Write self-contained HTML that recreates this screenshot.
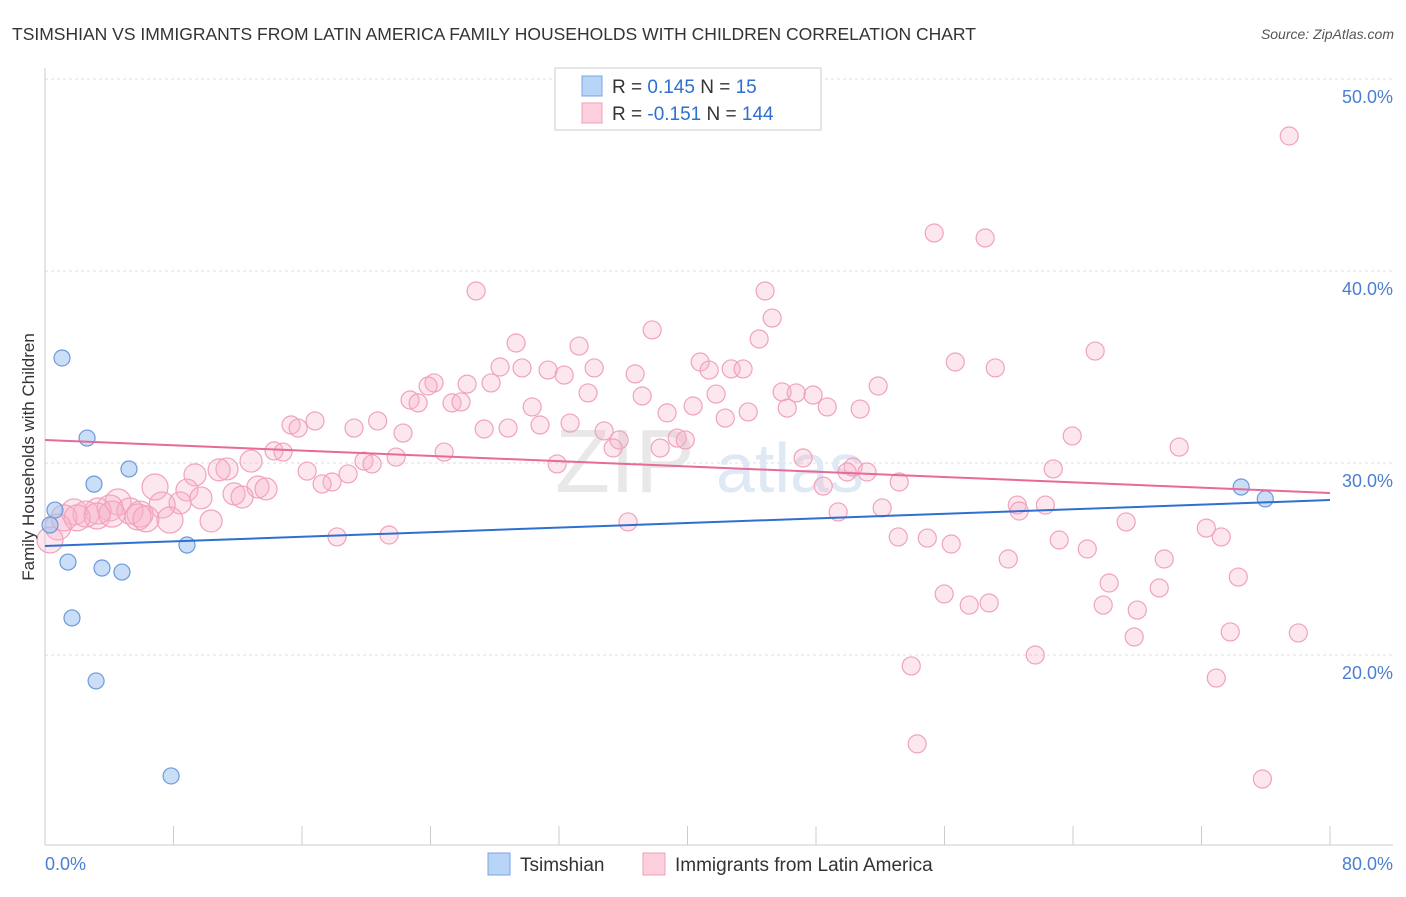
<!DOCTYPE html>
<html><head><meta charset="utf-8"><style>
body{margin:0;background:#fff;font-family:"Liberation Sans",sans-serif;}
svg text{font-family:"Liberation Sans",sans-serif;}
</style></head><body>
<svg id="chart" width="1406" height="892" xmlns="http://www.w3.org/2000/svg">
<text x="12" y="40" font-size="17.5" fill="#333">TSIMSHIAN VS IMMIGRANTS FROM LATIN AMERICA FAMILY HOUSEHOLDS WITH CHILDREN CORRELATION CHART</text>
<text x="1394" y="39" font-size="14" fill="#555" text-anchor="end" font-style="italic">Source: ZipAtlas.com</text>
<g id="grid"></g>
<text x="555" y="492" font-size="90" fill="#e8e8e8" font-family="Liberation Serif">ZIP</text>
<text x="716" y="492" font-size="70" fill="#dfe8f5">atlas</text>
<g id="pinkpts"></g><g id="bluepts"></g><g id="lines"></g>
<text transform="translate(34,457) rotate(-90)" font-size="17" fill="#333" text-anchor="middle">Family Households with Children</text>
<g>
<rect x="555" y="68" width="266" height="62" fill="#fff" stroke="#ccc"/>
<rect x="582" y="76" width="20" height="20" fill="#b8d4f6" stroke="#7aa6e0"/>
<rect x="582" y="103" width="20" height="20" fill="#fbcfdc" stroke="#f0a0b8"/>
<text x="612" y="93" font-size="19" fill="#333">R = <tspan fill="#2f6fd0">0.145</tspan>   N = <tspan fill="#2f6fd0">  15</tspan></text>
<text x="612" y="120" font-size="19" fill="#333">R = <tspan fill="#2f6fd0">-0.151</tspan>   N = <tspan fill="#2f6fd0">144</tspan></text>
</g>
<g>
<rect x="488" y="853" width="22" height="22" fill="#b8d4f6" stroke="#7aa6e0"/>
<text x="520" y="871" font-size="19" fill="#333">Tsimshian</text>
<rect x="643" y="853" width="22" height="22" fill="#fbcfdc" stroke="#f0a0b8"/>
<text x="675" y="871" font-size="19" fill="#333">Immigrants from Latin America</text>
</g>
</svg>
<script>
const yTicks=[20,30,40,50];
const xTickLabels=["0.0%","80.0%"];
const blueX=[0.62,1.06,2.62,3.05,5.23,1.43,1.68,3.55,4.79,8.84,3.18,7.85,74.47,75.97,0.31];
const blueY=[27.55,35.47,31.3,28.9,29.69,24.84,21.93,24.53,24.32,25.73,18.65,13.7,28.75,28.13,26.77];
const pinkX=[77.46,55.36,58.53,26.84,44.83,45.27,37.80,44.46,29.33,33.25,65.38,56.67,40.79,28.33,29.70,34.19,59.16,31.32,32.32,41.35,42.72,43.46,36.74,24.22,23.85,26.28,27.77,51.87,33.81,41.78,45.89,46.77,47.82,37.18,22.73,23.23,25.34,25.90,30.33,40.35,46.21,48.70,50.75,43.78,38.73,42.35,16.81,20.71,15.32,15.76,19.24,30.82,32.69,22.29,27.34,28.83,34.81,35.74,63.95,39.36,39.86,35.37,70.61,14.26,14.82,24.85,38.30,21.86,47.20,12.83,19.86,20.36,31.88,11.33,10.84,62.77,50.31,51.18,49.94,9.34,16.32,18.87,17.87,17.25,48.45,53.18,6.85,8.84,13.26,13.76,11.77,12.27,9.71,8.41,4.55,7.29,4.05,3.30,5.29,1.81,2.55,62.28,60.53,60.65,52.12,49.38,5.92,1.18,2.00,3.24,4.17,5.79,6.29,7.78,10.34,0.81,0.31,67.31,36.30,72.30,73.23,53.12,54.93,18.18,21.42,56.42,63.14,64.89,59.97,69.68,66.25,69.37,74.29,55.98,57.54,58.78,65.88,68.00,73.79,78.03,67.81,61.65,53.93,72.92,54.30,75.79];
const pinkY=[47.03,41.98,41.72,38.96,38.96,37.55,36.93,36.46,36.25,36.09,35.83,35.26,35.26,35.00,34.95,34.95,34.95,34.84,34.58,34.84,34.90,34.90,34.64,34.17,34.01,34.11,34.17,34.01,33.65,33.59,33.70,33.65,33.54,33.49,33.28,33.13,33.13,33.18,32.92,32.97,32.86,32.92,32.81,32.66,32.61,32.34,32.19,32.19,31.98,31.82,31.82,31.98,32.08,31.56,31.77,31.82,31.67,31.20,31.41,31.30,31.20,30.78,30.83,30.63,30.57,30.57,30.78,30.31,30.26,30.10,30.10,29.95,29.95,29.69,29.64,29.69,29.79,29.53,29.53,29.38,29.58,29.43,29.01,28.91,28.80,29.01,28.75,28.59,28.75,28.65,28.39,28.23,28.18,27.92,27.97,27.81,27.66,27.50,27.50,27.45,27.34,27.81,27.81,27.50,27.66,27.45,27.34,27.14,27.14,27.24,27.34,27.19,27.09,27.03,26.98,26.67,25.99,26.93,26.93,26.61,26.15,26.15,26.09,26.15,26.25,25.78,25.99,25.52,25.00,25.00,23.75,23.49,24.06,23.18,22.60,22.71,22.60,22.34,21.20,21.15,20.94,20.00,19.43,18.80,15.37,13.54];
const blueTrend=[25.68,28.07];
const pinkTrend=[31.2,28.44];
const NS="http://www.w3.org/2000/svg";
const X=v=>45+v*(1285/80);
const Y=v=>79+(50-v)*19.2;
function mk(tag,attrs,parent){const e=document.createElementNS(NS,tag);for(const k in attrs)e.setAttribute(k,attrs[k]);parent.appendChild(e);return e;}
const grid=document.getElementById('grid');
yTicks.forEach(t=>{
 const l=mk('line',{x1:45,x2:1393,y1:Y(t),y2:Y(t),stroke:'#ddd','stroke-dasharray':'3,3'},grid);
 
 
 const tx=mk('text',{x:1393,y:Y(t)+24,'font-size':18,fill:'#4a7fd0','text-anchor':'end'},grid);
 tx.textContent=t.toFixed(1)+'%';
 
 
});
const ax=mk('line',{x1:45,x2:45,y1:68,y2:845,stroke:'#ccc'},grid);


const bx=mk('line',{x1:45,x2:1393,y1:845,y2:845,stroke:'#ccc'},grid);


for(let i=0;i<=10;i++){const tk=mk('line',{x1:X(i*8),x2:X(i*8),y1:826,y2:845,stroke:'#ccc'},grid);
 
 }
[[0,'start',45],[80,'end',1393]].forEach((d,i)=>{const t=mk('text',{x:d[2],y:870,'font-size':18,fill:'#4a7fd0','text-anchor':d[1]},grid);t.textContent=xTickLabels[i];
 
 });
const pg=document.getElementById('pinkpts');
pinkX.forEach((x,i)=>{const r=x<8?13:(x<14?11:9);
 const c=mk('circle',{cx:X(x),cy:Y(pinkY[i]),r:r,fill:'rgba(248,175,198,0.3)',stroke:'#f0a2bb','stroke-width':1.2},pg);
 
 });
const bg=document.getElementById('bluepts');
blueX.forEach((x,i)=>{const c=mk('circle',{cx:X(x),cy:Y(blueY[i]),r:8,fill:'rgba(160,195,240,0.55)',stroke:'#6a9ad8','stroke-width':1.2},bg);
 
 });
const lg=document.getElementById('lines');
const bl=mk('line',{x1:X(0),x2:X(80),y1:Y(blueTrend[0]),y2:Y(blueTrend[1]),stroke:'#2f6fd0','stroke-width':2},lg);


const pl=mk('line',{x1:X(0),x2:X(80),y1:Y(pinkTrend[0]),y2:Y(pinkTrend[1]),stroke:'#e86a98','stroke-width':2},lg);


</script>
</body></html>
